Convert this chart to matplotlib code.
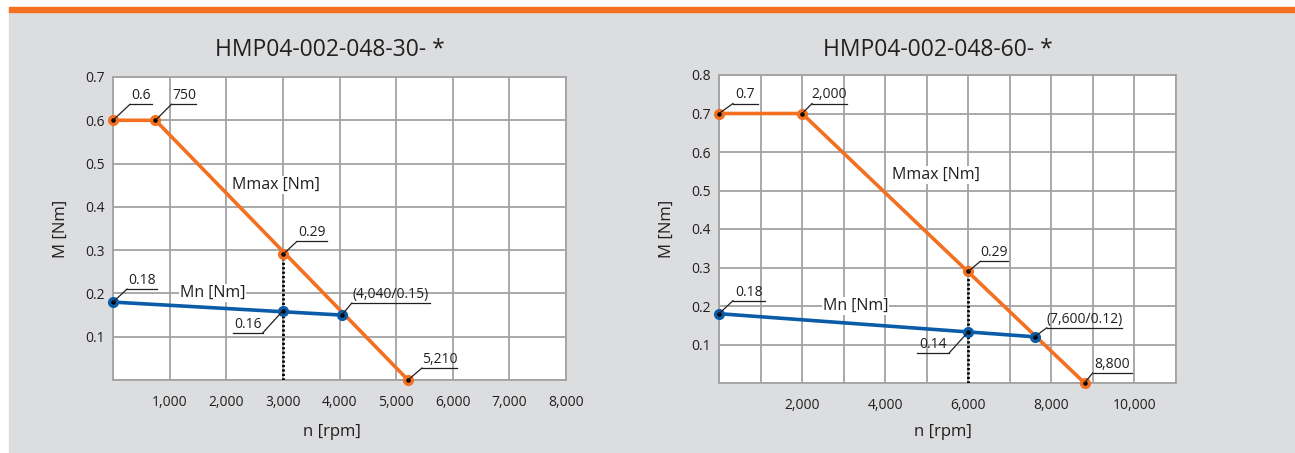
import matplotlib
matplotlib.use("Agg")
import matplotlib.pyplot as plt
from matplotlib.transforms import ScaledTranslation, Affine2D

plt.rcParams["font.family"] = ["Open Sans", "DejaVu Sans"]

# data
titles = ["HMP04-002-048-30- *", "HMP04-002-048-60- *"]
mmax_n = [[0, 750, 5210], [0, 2000, 8800]]
mmax_m = [[0.6, 0.6, 0.0], [0.7, 0.7, 0.0]]
mn_n = [[0, 4040], [0, 7600]]
mn_m = [[0.18, 0.15], [0.18, 0.12]]
rated_n = [3000, 6000]
rated_mmax = [0.29, 0.29]
rated_mn = [0.16, 0.133]
x_max = [8000, 11000]
y_max = [0.7, 0.8]
x_ticks = [[1000, 2000, 3000, 4000, 5000, 6000, 7000, 8000],
           [2000, 4000, 6000, 8000, 10000]]
y_ticks = [[0.1, 0.2, 0.3, 0.4, 0.5, 0.6, 0.7],
           [0.1, 0.2, 0.3, 0.4, 0.5, 0.6, 0.7, 0.8]]

ORANGE = "#f37021"
BLUE = "#0b5ca8"
GRID = "#a3a3a3"
BG = "#dcdddf"
TXT = "#231f20"

W, H = 1295, 453
fig = plt.figure(figsize=(W / 100, H / 100), dpi=100)
fig.patch.set_facecolor("white")
# grey panel and orange band on top
fig.patches.append(plt.Rectangle((9 / W, 0), 1 - 9 / W, (H - 12) / H,
                                 transform=fig.transFigure, color=BG, zorder=-5))
fig.patches.append(plt.Rectangle((9 / W, (H - 12) / H), 1 - 9 / W, 5 / H,
                                 transform=fig.transFigure, color=ORANGE, zorder=-5))

# axes rectangles in pixels (left, top, right, bottom)
boxes = [(113, 77, 566, 380), (719, 75, 1176, 383)]


def callout(ax, x, y, text, dx, dy, ul):
    # leader from the point, then an underline with the text sitting on it
    tr = Affine2D().scale(1, -1) + ScaledTranslation(x, y, ax.transData)
    ax.plot([0, dx], [0, dy], color=TXT, lw=0.9, transform=tr, zorder=6,
            clip_on=False)
    ax.plot([dx, dx + ul], [dy, dy], color=TXT, lw=0.9, transform=tr,
            zorder=6, clip_on=False)
    ax.text(dx + ul / 2, dy - 1, text, transform=tr, ha="center", va="bottom",
            fontsize=10, color=TXT, zorder=7)


def dot(ax, x, y, c):
    ax.plot(x, y, "o", ms=7, color=c, zorder=5, clip_on=False)
    ax.plot(x, y, "o", ms=2.2, color="black", zorder=6, clip_on=False)


callouts = [
    [(0, 0.6, "0.6", 17, -16, 22), (750, 0.6, "750", 16, -16, 25),
     (3000, 0.29, "0.29", 14, -13, 30), (4040, 0.15, "(4,040/0.15)", 10, -12, 78),
     (5210, 0.0, "5,210", 14, -12, 35), (3000, 0.16, "0.16", -20, 22, -30),
     (0, 0.18, "0.18", 14, -13, 30)],
    [(0, 0.7, "0.7", 14, -10, 25), (2000, 0.7, "2,000", 10, -10, 35),
     (6000, 0.29, "0.29", 12, -10, 28), (7600, 0.12, "(7,600/0.12)", 12, -9, 75),
     (8800, 0.0, "8,800", 8, -10, 39), (6000, 0.133, "0.14", -19, 21, -32),
     (0, 0.18, "0.18", 14, -13, 32)],
]
mmax_lbl = [(232, 185), (892, 175)]
mn_lbl = [(180, 293), (823, 306)]

for i in range(2):
    l, t, r, b = boxes[i]
    ax = fig.add_axes([l / W, (H - b) / H, (r - l) / W, (b - t) / H])
    ax.set_facecolor("white")
    ax.set_xlim(0, x_max[i])
    ax.set_ylim(0, y_max[i])
    ax.set_xticks(range(0, x_max[i] + 1, 1000), minor=True)
    ax.set_yticks([k / 10 for k in range(int(round(y_max[i] * 10)) + 1)], minor=True)
    ax.set_xticks(x_ticks[i])
    ax.set_xticklabels([f"{v:,}" for v in x_ticks[i]])
    ax.set_yticks(y_ticks[i])
    ax.set_yticklabels([f"{v:.1f}" for v in y_ticks[i]])
    ax.grid(True, which="both", color=GRID, lw=1.3)
    ax.set_axisbelow(True)
    ax.tick_params(which="both", length=0, labelsize=10, labelcolor=TXT)
    ax.tick_params(axis="x", pad=11)
    ax.tick_params(axis="y", pad=6)
    for s in ax.spines.values():
        s.set_color(GRID)
        s.set_linewidth(1.3)

    ax.plot([rated_n[i], rated_n[i]], [0, rated_mmax[i]], color="black",
            ls=(0, (0.8, 0.8)), lw=2.0, zorder=3)
    ax.plot(mmax_n[i], mmax_m[i], color=ORANGE, lw=2.6, zorder=4,
            solid_capstyle="butt", clip_on=False)
    ax.plot(mn_n[i], mn_m[i], color=BLUE, lw=2.6, zorder=4, clip_on=False)
    for xx, yy in zip(mmax_n[i], mmax_m[i]):
        dot(ax, xx, yy, ORANGE)
    for xx, yy in zip(mn_n[i], mn_m[i]):
        dot(ax, xx, yy, BLUE)
    dot(ax, rated_n[i], rated_mmax[i], ORANGE)
    dot(ax, rated_n[i], rated_mn[i], BLUE)

    for c in callouts[i]:
        callout(ax, *c)

    fig.text(mmax_lbl[i][0] / W, 1 - mmax_lbl[i][1] / H, "Mmax [Nm]",
             ha="left", va="center", fontsize=11.5, color=TXT, zorder=8,
             bbox=dict(fc="white", ec="none", pad=0.5))
    fig.text(mn_lbl[i][0] / W, 1 - mn_lbl[i][1] / H, "Mn [Nm]",
             ha="left", va="center", fontsize=11.5, color=TXT, zorder=8,
             bbox=dict(fc="white", ec="none", pad=0.5))

    cx = (l + r) / 2
    fig.text((cx - 10) / W, 1 - 50 / H, titles[i], ha="center", va="center",
             fontsize=16.5, color=TXT)
    fig.text((cx - 8 + 3 * i) / W, 1 - 432 / H, "n [rpm]", ha="center",
             va="center", fontsize=12, color=TXT)
    fig.text((l - 52) / W, 1 - ((t + b) / 2) / H, "M [Nm]", ha="center",
             va="center", rotation=90, fontsize=12, color=TXT)

fig.savefig("out.png", dpi=100)
